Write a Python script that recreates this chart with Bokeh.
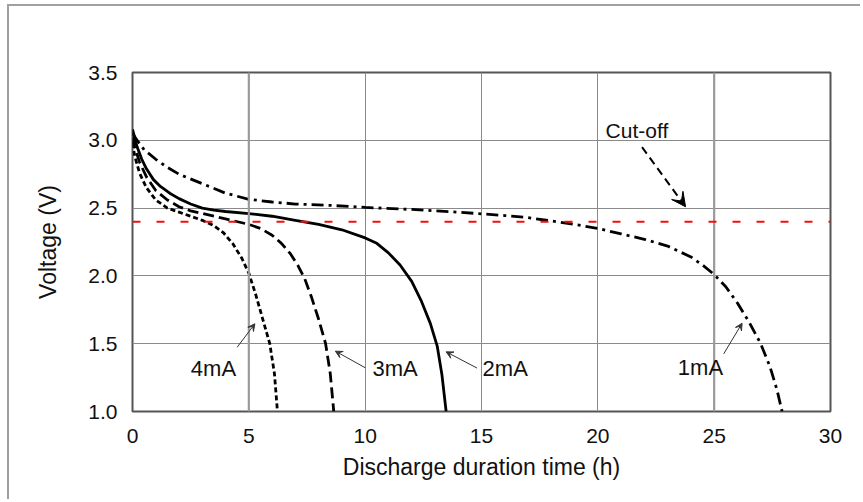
from bokeh.plotting import figure
from bokeh.models import (Range1d, FixedTicker, NumeralTickFormatter, Span, Label,
                          Arrow, VeeHead)
from bokeh.embed import file_html
from bokeh.resources import INLINE

# ---- data ----
t_4mA = [0.0, 0.1, 0.3, 0.6, 1.0, 1.5, 2.0, 2.5, 3.0, 3.5, 3.9, 4.3, 4.7, 5.0, 5.3, 5.6, 5.9, 6.1, 6.23]
v_4mA = [2.98, 2.88, 2.76, 2.65, 2.56, 2.50, 2.47, 2.44, 2.41, 2.37, 2.32, 2.24, 2.13, 2.02, 1.86, 1.68, 1.50, 1.28, 1.00]

t_3mA = [0.0, 0.1, 0.3, 0.6, 1.0, 1.5, 2.0, 2.5, 3.0, 4.0, 5.0, 5.5, 6.0, 6.4, 6.8, 7.1, 7.4, 7.7, 8.0, 8.3, 8.5, 8.65]
v_3mA = [3.02, 2.95, 2.84, 2.73, 2.63, 2.56, 2.51, 2.48, 2.46, 2.42, 2.38, 2.35, 2.30, 2.24, 2.16, 2.08, 1.98, 1.84, 1.68, 1.50, 1.28, 1.00]

t_2mA = [0.0, 0.05, 0.2, 0.4, 0.6, 0.9, 1.2, 1.6, 2.0, 2.5, 3.0, 3.5, 4.0, 5.0, 6.0, 7.0, 8.0, 9.0, 10.0, 10.5, 11.0, 11.5, 12.0, 12.4, 12.8, 13.1, 13.3, 13.48]
v_2mA = [3.08, 3.05, 2.95, 2.86, 2.79, 2.71, 2.66, 2.61, 2.57, 2.53, 2.50, 2.485, 2.475, 2.46, 2.44, 2.41, 2.38, 2.34, 2.28, 2.24, 2.17, 2.08, 1.96, 1.82, 1.65, 1.48, 1.27, 1.00]

t_1mA = [0.0, 0.2, 0.5, 1.0, 1.5, 2.0, 3.0, 4.0, 5.0, 6.0, 7.0, 8.5, 10.0, 12.0, 14.0, 16.0, 17.0, 18.0, 19.0, 20.0, 21.0, 22.0, 23.0, 23.5, 24.0, 24.5, 25.0, 25.5, 26.0, 26.5, 27.0, 27.4, 27.7, 27.92]
v_1mA = [3.05, 3.00, 2.93, 2.86, 2.80, 2.75, 2.68, 2.61, 2.565, 2.545, 2.53, 2.52, 2.505, 2.49, 2.47, 2.445, 2.43, 2.405, 2.38, 2.35, 2.31, 2.27, 2.22, 2.18, 2.14, 2.08, 2.01, 1.92, 1.80, 1.66, 1.50, 1.33, 1.16, 1.00]

cutoff_voltage = 2.4
x_ticks = [0, 5, 10, 15, 20, 25, 30]
y_ticks = [1.0, 1.5, 2.0, 2.5, 3.0, 3.5]
strong_grid_x = [5, 25]
series_labels = ["4mA", "3mA", "2mA", "1mA"]

FONT = "Liberation Sans"
GRID = "#8a8a8a"

p = figure(width=853, height=495, output_backend="svg", toolbar_location=None,
           x_range=Range1d(0, 30), y_range=Range1d(1.0, 3.5),
           min_border_left=123, min_border_top=66, min_border_right=32, min_border_bottom=90)
p.margin = (4, 0, 0, 7)
p.styles = {"border-top": "2px solid #a0a0a0", "border-left": "2px solid #a0a0a0"}

p.background_fill_color = "white"
p.border_fill_color = "white"
p.outline_line_color = "#555555"
p.outline_line_width = 2

p.xaxis.ticker = FixedTicker(ticks=x_ticks)
p.yaxis.ticker = FixedTicker(ticks=y_ticks)
p.yaxis.formatter = NumeralTickFormatter(format="0.0")
p.xaxis.formatter = NumeralTickFormatter(format="0")
for ax in (p.xaxis[0], p.yaxis[0]):
    ax.axis_line_color = None
    ax.major_tick_line_color = None
    ax.minor_tick_line_color = None
    ax.major_tick_out = 0
    ax.major_tick_in = 0
    ax.major_label_text_font = FONT
    ax.major_label_text_font_size = "21px"
    ax.major_label_text_color = "#111111"
    ax.axis_label_text_font = FONT
    ax.axis_label_text_font_size = "23px"
    ax.axis_label_text_font_style = "normal"
    ax.axis_label_text_color = "#111111"
p.xaxis.major_label_standoff = 17
p.yaxis.major_label_standoff = 15
p.xaxis.axis_label = "Discharge duration time (h)"
p.yaxis.axis_label = "Voltage (V)"
p.xaxis.axis_label_standoff = 8
p.yaxis.axis_label_standoff = 24

p.xgrid.grid_line_color = GRID
p.xgrid.grid_line_width = 1
p.ygrid.grid_line_color = GRID
p.ygrid.grid_line_width = 1
for gx in strong_grid_x:
    p.add_layout(Span(location=gx, dimension="height", line_color="#9a9a9a", line_width=2.2))

# cut-off line
p.add_layout(Span(location=cutoff_voltage, dimension="width", line_color="#ee1111",
                  line_width=2, line_dash="8 16"))

LW = 2.8
p.line(t_4mA, v_4mA, line_color="black", line_width=LW, line_dash="5 3")
p.line(t_3mA, v_3mA, line_color="black", line_width=LW, line_dash="11 5")
p.line(t_2mA, v_2mA, line_color="black", line_width=LW)
p.line(t_1mA, v_1mA, line_color="black", line_width=LW, line_dash="12 5 3 5")

# annotations
label_pos = [(3.48, 1.317), (11.29, 1.317), (16.02, 1.317), (24.41, 1.328)]
arrow_pos = [(4.5, 1.474, 5.26, 1.647), (10.01, 1.322, 8.72, 1.445),
             (14.81, 1.32, 13.48, 1.44), (25.41, 1.425, 26.2, 1.651)]
for txt, (lx, ly), (x0, y0, x1, y1) in zip(series_labels, label_pos, arrow_pos):
    p.add_layout(Label(x=lx, y=ly, text=txt, text_font=FONT, text_font_size="22px",
                       text_align="center", text_baseline="middle", text_color="#111111"))
    p.add_layout(Arrow(x_start=x0, y_start=y0, x_end=x1, y_end=y1, line_color="#333333",
                       line_width=1,
                       end=VeeHead(size=7, fill_color="#333333", line_color="#333333", line_width=1)))

p.add_layout(Label(x=21.68, y=3.072, text="Cut-off", text_font=FONT, text_font_size="21px",
                   text_align="center", text_baseline="middle", text_color="#111111"))
p.add_layout(Arrow(x_start=21.9, y_start=2.95, x_end=23.77, y_end=2.51, line_color="black",
                   line_width=2, line_dash="8 5",
                   end=VeeHead(size=14, fill_color="black", line_color="black", line_width=1)))

open("out.html", "w").write(file_html(p, INLINE))
